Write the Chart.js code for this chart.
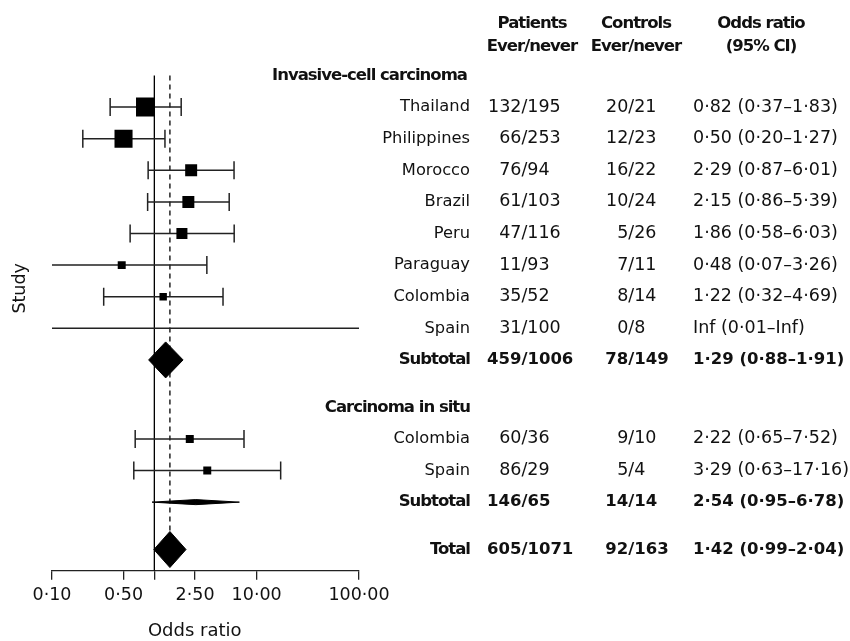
<!DOCTYPE html>
<html>
<head>
<meta charset="utf-8">
<script src="https://cdn.jsdelivr.net/npm/chart.js@4.4.1/dist/chart.umd.min.js"></script>
<style>
  html, body { margin: 0; padding: 0; background: #fff; }
  #wrap { width: 850px; height: 641px; }
</style>
</head>
<body>
<div id="wrap"><canvas id="forest" width="850" height="641"></canvas></div>
<script>
// ---- Study data: invasive-cell carcinoma studies, subtotal, carcinoma in situ studies, subtotal, total ----
const rowLabels     = ['Thailand', 'Philippines', 'Morocco', 'Brazil', 'Peru', 'Paraguay', 'Colombia', 'Spain', 'Subtotal',
                       'Colombia', 'Spain', 'Subtotal', 'Total'];
const isSummary     = [0, 0, 0, 0, 0, 0, 0, 0, 1, 0, 0, 1, 1];
const patientsEver  = [132, 66, 76, 61, 47, 11, 35, 31, 459, 60, 86, 146, 605];
const patientsNever = [195, 253, 94, 103, 116, 93, 52, 100, 1006, 36, 29, 65, 1071];
const controlsEver  = [20, 12, 16, 10, 5, 7, 8, 0, 78, 9, 5, 14, 92];
const controlsNever = [21, 23, 22, 24, 26, 11, 14, 8, 149, 10, 4, 14, 163];
const oddsRatio     = [0.82, 0.50, 2.29, 2.15, 1.86, 0.48, 1.22, Infinity, 1.29, 2.22, 3.29, 2.54, 1.42];
const ciLower       = [0.37, 0.20, 0.87, 0.86, 0.58, 0.07, 0.32, 0.01, 0.88, 0.65, 0.63, 0.95, 0.99];
const ciUpper       = [1.83, 1.27, 6.01, 5.39, 6.03, 3.26, 4.69, Infinity, 1.91, 7.52, 17.16, 6.78, 2.04];
// relative study weight (box size); summaries are drawn as diamonds
const studyWeight   = [1.00, 0.95, 0.63, 0.63, 0.58, 0.42, 0.39, 0, null, 0.42, 0.42, null, null];
const groupHeaders  = ['Invasive-cell carcinoma', 'Carcinoma in situ'];
const columnHeads   = [['Patients', 'Ever/never'], ['Controls', 'Ever/never'], ['Odds ratio', '(95% CI)']];
const xTicks        = [0.1, 0.5, 1, 2.5, 10, 100];
const xTickLabels   = ['0·10', '0·50', '', '2·50', '10·00', '100·00'];

// ---- Layout (row positions on the vertical scale, in row units) ----
const ROW_Y = [1, 2, 3, 4, 5, 6, 7, 8, 9, 11.5, 12.5, 13.5, 15];
const GROUP_Y = [0, 10.5];
const HEAD_Y = [-1.63, -0.9];
const Y_MIN = -2.2, Y_MAX = 15.67;
const X_MIN = 0.1, X_MAX = 100;
const BOX_MAX = 19;                 // px side of the heaviest study box
const DIAMOND_HALF = { 8: 0.57, 11: 0.08, 12: 0.57 };
const INK = '#111';
const LINE = '#222';

const fmt = v => (isFinite(v) ? v.toFixed(2).replace('.', '·') : 'Inf');
const orText = i => `${fmt(oddsRatio[i])} (${fmt(ciLower[i])}–${fmt(ciUpper[i])})`;

// confidence interval segments, end caps and study boxes
const ciData = [], capData = [], boxData = [], boxRadius = [];
rowLabels.forEach((_, i) => {
  if (isSummary[i]) return;
  const y = ROW_Y[i];
  const lo = Math.max(ciLower[i], X_MIN), hi = Math.min(ciUpper[i], X_MAX);
  ciData.push({ x: lo, y }, { x: hi, y }, { x: hi, y: null });
  if (ciLower[i] >= X_MIN) capData.push({ x: ciLower[i], y });
  if (ciUpper[i] <= X_MAX) capData.push({ x: ciUpper[i], y });
  if (isFinite(oddsRatio[i]) && studyWeight[i] > 0) {
    boxData.push({ x: oddsRatio[i], y });
    boxRadius.push(studyWeight[i] * BOX_MAX / Math.SQRT2);
  }
});

// summary diamonds
const diamondSets = [];
rowLabels.forEach((_, i) => {
  if (!isSummary[i]) return;
  const y = ROW_Y[i], h = DIAMOND_HALF[i];
  diamondSets.push({
    type: 'line',
    data: [
      { x: ciLower[i], y }, { x: oddsRatio[i], y: y - h },
      { x: ciUpper[i], y }, { x: oddsRatio[i], y: y + h }, { x: ciLower[i], y }
    ],
    borderColor: '#000', borderWidth: 1, backgroundColor: '#000',
    fill: 'shape', pointRadius: 0, tension: 0, order: 1
  });
});

const TOTAL = rowLabels.length - 1;

const tablePlugin = {
  id: 'forestTable',
  afterDraw(chart) {
    const ctx = chart.ctx;
    const ys = chart.scales.y;
    const REG_LABEL = '16.3px "DejaVu Sans"';
    const REG_NUM = '17.5px "DejaVu Sans"';
    const BOLD_LABEL = 'bold 16.5px "DejaVu Sans"';
    const BOLD_NUM = 'bold 16.5px "DejaVu Sans"';
    const LABEL_RIGHT = 470, PAT_LEFT = 488, CTRL_LEFT = 606, OR_LEFT = 693;
    const HEAD_X = [532, 636, 761];

    ctx.save();
    ctx.fillStyle = INK;
    ctx.textBaseline = 'middle';

    ctx.font = REG_NUM;
    const patSlash = PAT_LEFT + ctx.measureText('000').width;
    const ctrlSlash = CTRL_LEFT + ctx.measureText('00').width;

    const tight = on => { if ('letterSpacing' in ctx) ctx.letterSpacing = on ? '-1px' : '0px'; };

    // column headings
    ctx.font = BOLD_LABEL;
    tight(true);
    ctx.textAlign = 'center';
    columnHeads.forEach((lines, c) => {
      lines.forEach((t, k) => ctx.fillText(t, HEAD_X[c], ys.getPixelForValue(HEAD_Y[k])));
    });

    // group headings
    ctx.textAlign = 'left';
    ctx.fillText(groupHeaders[0], 272, ys.getPixelForValue(GROUP_Y[0]));
    ctx.textAlign = 'right';
    ctx.fillText(groupHeaders[1], LABEL_RIGHT, ys.getPixelForValue(GROUP_Y[1]));
    tight(false);

    const frac = (a, b, slashX, y) => {
      ctx.textAlign = 'right';
      ctx.fillText(String(a), slashX, y);
      ctx.textAlign = 'left';
      ctx.fillText('/' + b, slashX, y);
    };

    rowLabels.forEach((label, i) => {
      const y = ys.getPixelForValue(ROW_Y[i]);
      const bold = !!isSummary[i];
      ctx.font = bold ? BOLD_LABEL : REG_LABEL;
      tight(bold);
      ctx.textAlign = 'right';
      ctx.fillText(label, LABEL_RIGHT, y);
      tight(false);
      ctx.font = bold ? BOLD_NUM : REG_NUM;
      frac(patientsEver[i], patientsNever[i], patSlash, y);
      frac(controlsEver[i], controlsNever[i], ctrlSlash, y);
      ctx.textAlign = 'left';
      ctx.fillText(orText(i), OR_LEFT, y);
    });

    // horizontal axis title
    ctx.font = '18px "DejaVu Sans"';
    ctx.textAlign = 'center';
    ctx.fillText('Odds ratio', 194.7, 631);
    ctx.restore();
  }
};

new Chart(document.getElementById('forest'), {
  type: 'scatter',
  data: {
    datasets: [
      { // line of no effect
        type: 'line', data: [{ x: 1, y: GROUP_Y[0] }, { x: 1, y: Y_MAX }],
        borderColor: '#000', borderWidth: 1.3, pointRadius: 0, order: 5
      },
      { // pooled total estimate
        type: 'line', data: [{ x: oddsRatio[TOTAL], y: GROUP_Y[0] }, { x: oddsRatio[TOTAL], y: ROW_Y[TOTAL] }],
        borderColor: '#000', borderWidth: 1.3, borderDash: [5, 4], pointRadius: 0, order: 5
      },
      { // confidence intervals
        type: 'line', data: ciData, spanGaps: false,
        borderColor: LINE, borderWidth: 1.5, pointRadius: 0, order: 4
      },
      { // interval end caps
        type: 'scatter', data: capData, pointStyle: 'line', pointRotation: 90,
        pointRadius: 9, pointBorderColor: LINE, pointBorderWidth: 1.5, borderColor: LINE, order: 3
      },
      { // study estimates
        type: 'scatter', data: boxData, pointStyle: 'rect', pointRadius: boxRadius,
        pointBackgroundColor: '#000', pointBorderWidth: 0, backgroundColor: '#000', borderWidth: 0, order: 2
      },
      ...diamondSets
    ]
  },
  options: {
    responsive: false,
    animation: false,
    devicePixelRatio: 1,
    layout: { autoPadding: false, padding: { left: 10, right: 491, top: 6, bottom: 0 } },
    plugins: { legend: { display: false }, tooltip: { enabled: false } },
    events: [],
    scales: {
      x: {
        type: 'logarithmic', min: X_MIN, max: X_MAX, position: 'bottom',
        afterBuildTicks: s => { s.ticks = xTicks.map(v => ({ value: v })); },
        afterFit: s => { s.height = 70.3; },
        ticks: {
          autoSkip: false, maxRotation: 0, minRotation: 0, padding: 5, color: INK,
          font: { family: 'DejaVu Sans', size: 17.5 },
          callback: (v, i) => xTickLabels[i]
        },
        grid: { drawOnChartArea: false, drawTicks: true, tickLength: 9, color: LINE, lineWidth: 1.3 },
        border: { display: true, color: LINE, width: 1.3 }
      },
      y: {
        type: 'linear', reverse: true, min: Y_MIN, max: Y_MAX,
        afterFit: s => { s.width = 42; },
        ticks: { display: false },
        grid: { display: false },
        border: { display: false },
        title: { display: true, text: 'Study', color: INK, padding: 0, font: { family: 'DejaVu Sans', size: 17.5 } }
      }
    }
  },
  plugins: [tablePlugin]
});
</script>
</body>
</html>
